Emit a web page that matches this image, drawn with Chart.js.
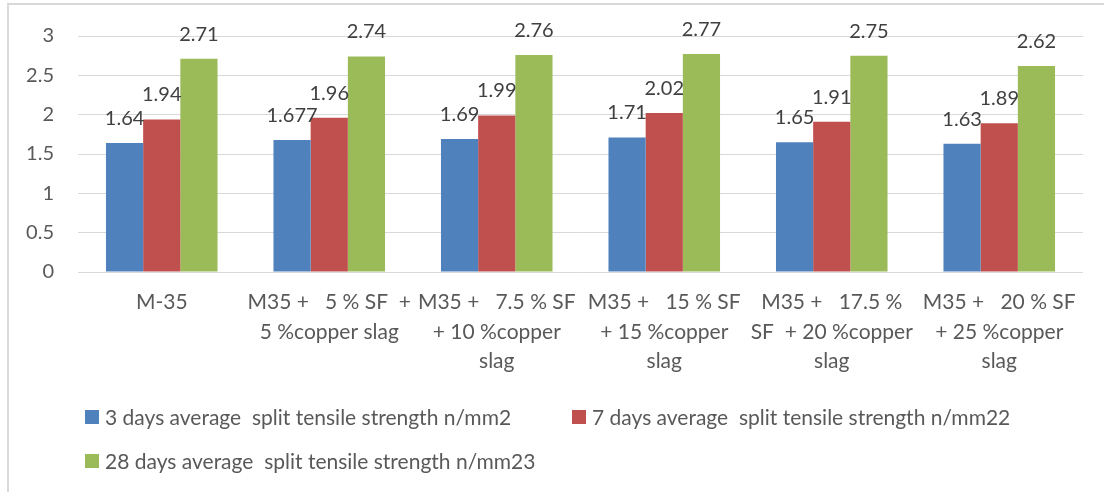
<!DOCTYPE html>
<html>
<head>
<meta charset="utf-8">
<title>Split tensile strength</title>
<script src="https://cdn.jsdelivr.net/npm/chart.js@4.4.1/dist/chart.umd.min.js"></script>
<style>
  html, body { margin: 0; padding: 0; background: #ffffff; }
  #wrap { width: 1104px; height: 492px; position: relative; }
</style>
</head>
<body>
<div id="wrap"><canvas id="chart" width="1104" height="492"></canvas></div>
<script>
// Mix designs on the category axis (each label wraps over several lines)
const categories = [
  ["M-35"],
  ["M35 +   5 % SF  +", "5 %copper slag"],
  ["M35 +   7.5 % SF", "+ 10 %copper", "slag"],
  ["M35 +   15 % SF", "+ 15 %copper", "slag"],
  ["M35 +   17.5 %", "SF  + 20 %copper", "slag"],
  ["M35 +   20 % SF", "+ 25 %copper", "slag"]
];

// Average split tensile strength (N/mm²) at each curing age
const day3Values  = [1.64, 1.677, 1.69, 1.71, 1.65, 1.63];
const day7Values  = [1.94, 1.96, 1.99, 2.02, 1.91, 1.89];
const day28Values = [2.71, 2.74, 2.76, 2.77, 2.75, 2.62];

const seriesNames = [
  "3 days average  split tensile strength n/mm2",
  "7 days average  split tensile strength n/mm22",
  "28 days average  split tensile strength n/mm23"
];

// Value axis ticks
const yTicks = [0, 0.5, 1, 1.5, 2, 2.5, 3];

const FONT = "Lato, 'Open Sans', 'Liberation Sans', sans-serif";
const TEXT = "#595959";
const GRID = "#d9d9d9";

// Thin frame around the chart
const framePlugin = {
  id: "frame",
  beforeDraw(chart) {
    const ctx = chart.ctx;
    ctx.save();
    ctx.strokeStyle = GRID;
    ctx.lineWidth = 2;
    ctx.beginPath();
    ctx.moveTo(8, chart.height + 2);
    ctx.lineTo(8, 4);
    ctx.lineTo(chart.width + 2, 4);
    ctx.stroke();
    ctx.restore();
  }
};

// Value labels above each bar
const valueLabelPlugin = {
  id: "valueLabels",
  afterDatasetsDraw(chart) {
    const ctx = chart.ctx;
    ctx.save();
    ctx.font = "20px " + FONT;
    ctx.fillStyle = "#404040";
    ctx.textAlign = "center";
    ctx.textBaseline = "alphabetic";
    chart.data.datasets.forEach((ds, i) => {
      const meta = chart.getDatasetMeta(i);
      meta.data.forEach((bar, j) => {
        ctx.fillText(String(ds.data[j]), bar.x, bar.y - 18);
      });
    });
    ctx.restore();
  }
};

// Legend laid out in two left-aligned rows under the axis labels
const legendPlugin = {
  id: "rowLegend",
  afterDraw(chart) {
    const ctx = chart.ctx;
    const slots = [
      { x: 85, y: 417 },
      { x: 572, y: 417 },
      { x: 85, y: 461 }
    ];
    ctx.save();
    ctx.font = "21px " + FONT;
    ctx.textAlign = "left";
    ctx.textBaseline = "middle";
    chart.data.datasets.forEach((ds, i) => {
      const s = slots[i];
      ctx.fillStyle = ds.backgroundColor;
      ctx.fillRect(s.x, s.y - 7, 14, 14);
      ctx.fillStyle = TEXT;
      ctx.fillText(ds.label, s.x + 20, s.y + 1);
    });
    ctx.restore();
  }
};

const chart = new Chart(document.getElementById("chart"), {
  type: "bar",
  data: {
    labels: categories,
    datasets: [
      { label: seriesNames[0], data: day3Values,  backgroundColor: "#4f81bd" },
      { label: seriesNames[1], data: day7Values,  backgroundColor: "#c0504d" },
      { label: seriesNames[2], data: day28Values, backgroundColor: "#9bbb59" }
    ]
  },
  options: {
    responsive: false,
    animation: false,
    devicePixelRatio: 1,
    layout: { padding: { top: 34, right: 21, left: 0, bottom: 0 } },
    datasets: {
      bar: { categoryPercentage: 0.666, barPercentage: 1.0, borderWidth: 0 }
    },
    plugins: {
      legend: { display: false },
      tooltip: { enabled: false }
    },
    scales: {
      x: {
        grid: { display: false, drawTicks: false },
        border: { display: false },
        ticks: {
          color: TEXT,
          font: { family: FONT, size: 21, lineHeight: 1.4 },
          padding: 16,
          maxRotation: 0,
          minRotation: 0,
          autoSkip: false
        },
        afterFit(scale) { scale.height = 220; }
      },
      y: {
        min: 0,
        max: 3,
        grid: { color: GRID, lineWidth: 1, drawTicks: false },
        border: { display: false },
        afterBuildTicks(scale) { scale.ticks = yTicks.map(v => ({ value: v })); },
        ticks: {
          color: TEXT,
          font: { family: FONT, size: 20 },
          padding: 24,
          callback: (v) => String(v)
        },
        afterFit(scale) { scale.width = 78; }
      }
    }
  },
  plugins: [framePlugin, valueLabelPlugin, legendPlugin]
});
</script>
</body>
</html>
